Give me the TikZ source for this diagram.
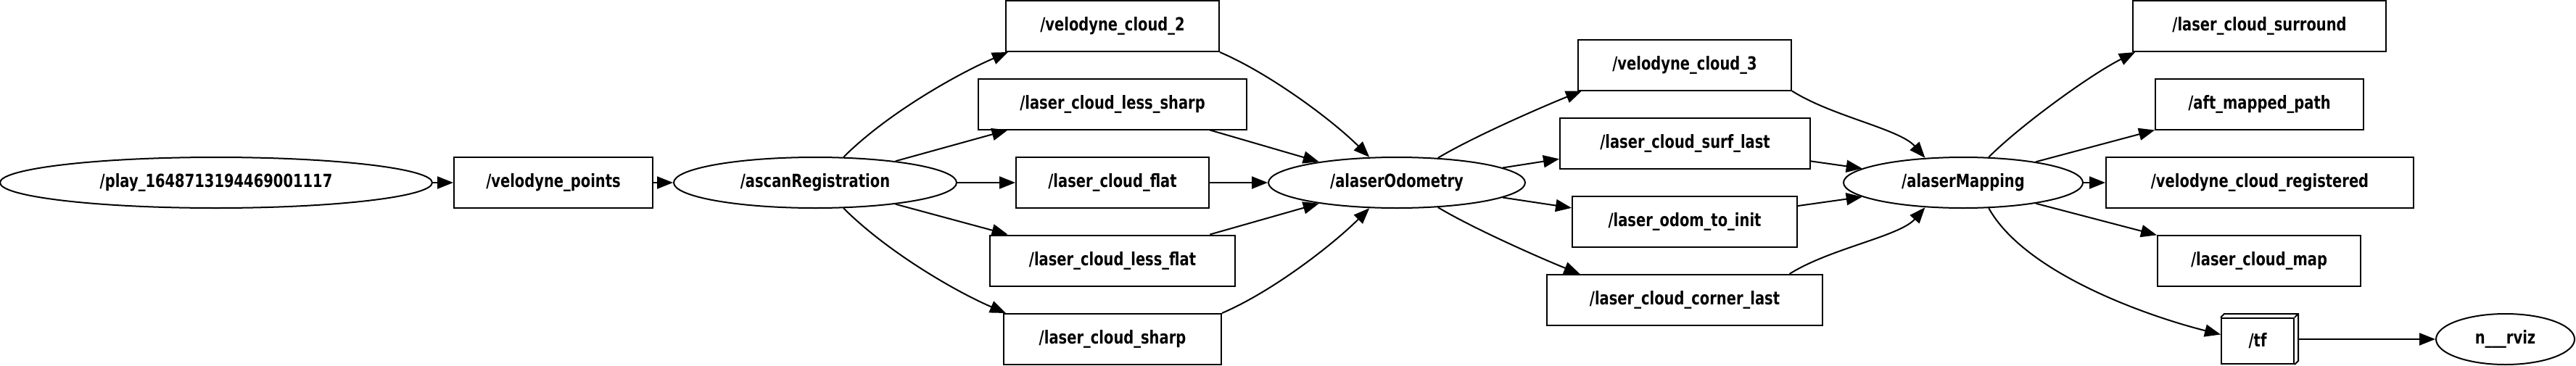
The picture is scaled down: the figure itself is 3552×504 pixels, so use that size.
\documentclass[tikz,border=0pt]{standalone}
\usepackage{fontspec}
\setsansfont{DejaVu Sans}[FakeStretch=0.78]
\usetikzlibrary{arrows.meta,positioning,shapes.geometric}

\begin{document}
\begin{tikzpicture}[
  x=1pt,y=-1pt,
  font=\sffamily\bfseries\fontsize{25}{28}\selectfont,
  nd/.style={draw,ellipse,line width=2pt,minimum height=70pt,inner sep=0pt},
  tp/.style={draw,rectangle,line width=2pt,minimum height=70pt,inner sep=0pt},
  arr/.style={-{Triangle[length=22pt,width=17pt]},line width=2pt}
]
\useasboundingbox (0,0) rectangle (3552,504);

% nodes
\node[nd,minimum width=596pt] (play) at (298,252) {/play\_1648713194469001117};
\node[tp,minimum width=274pt] (vp) at (763,252) {/velodyne\_points};
\node[nd,minimum width=390pt] (ascan) at (1124,252) {/ascanRegistration};

\node[tp,minimum width=294pt] (vc2) at (1534,36) {/velodyne\_cloud\_2};
\node[tp,minimum width=370pt] (ls) at (1534,143.5) {/laser\_cloud\_less\_sharp};
\node[tp,minimum width=266pt] (lfl) at (1534,252) {/laser\_cloud\_flat};
\node[tp,minimum width=338pt] (lf) at (1534,359.5) {/laser\_cloud\_less\_flat};
\node[tp,minimum width=300pt] (sh) at (1534,468) {/laser\_cloud\_sharp};

\node[nd,minimum width=354pt] (odo) at (1926,252) {/alaserOdometry};

\node[tp,minimum width=294pt] (vc3) at (2323,89.5) {/velodyne\_cloud\_3};
\node[tp,minimum width=345pt] (sl) at (2323.5,198) {/laser\_cloud\_surf\_last};
\node[tp,minimum width=310pt] (oti) at (2323,306) {/laser\_odom\_to\_init};
\node[tp,minimum width=380pt] (cl) at (2323,414) {/laser\_cloud\_corner\_last};

\node[nd,minimum width=330pt] (map) at (2707,252) {/alaserMapping};

\node[tp,minimum width=349pt] (sur) at (3115.5,36) {/laser\_cloud\_surround};
\node[tp,minimum width=287pt] (amp) at (3115.5,143.5) {/aft\_mapped\_path};
\node[tp,minimum width=424pt] (vcr) at (3116,252) {/velodyne\_cloud\_registered};
\node[tp,minimum width=280pt] (lcm) at (3115,359.5) {/laser\_cloud\_map};
\node[tp,minimum width=100pt,minimum height=63pt] (tf) at (3113,470.5) {/tf};
\draw[line width=2pt] (tf.north west) -- ++(5,-5) -| ([shift={(5,-5)}]tf.south east) -- (tf.south east)
  (tf.north east) -- ++(5,-5);
\node[nd,minimum width=191pt] (rviz) at (3454.5,468) {n\_\_\_rviz};

% edges
\draw[arr] (play) -- (vp);
\draw[arr] (vp) -- (ascan);

\draw[arr] (ascan.42) .. controls +(60,-60) and +(-70,30) .. ([xshift=4pt]vc2.south west);
\draw[arr] (ascan.15) -- (ls.-166);
\draw[arr] (ascan) -- (lfl);
\draw[arr] (ascan.-15) -- (lf.166);
\draw[arr] (ascan.-42) .. controls +(60,60) and +(-70,-30) .. ([xshift=4pt]sh.north west);

\draw[arr] (vc2.south east) .. controls +(70,30) and +(-50,-50) .. (odo.137);
\draw[arr] (ls.-15) -- (odo.165);
\draw[arr] (lfl) -- (odo);
\draw[arr] (lf.15) -- (odo.-165);
\draw[arr] (sh.north east) .. controls +(70,-30) and +(-50,50) .. (odo.-137);

\draw[arr] (odo.31) .. controls +(50,-30) and +(-50,20) .. ([xshift=6pt]vc3.south west);
\draw[arr] (odo.8) -- (sl.-173);
\draw[arr] (odo.-8) -- (oti.173);
\draw[arr] (odo.-31) .. controls +(50,30) and +(-50,-20) .. (cl.166);

\draw[arr] (vc3.south east) .. controls +(55,35) and +(-35,-40) .. (map.147);
\draw[arr] (sl.-8) -- (map.172);
\draw[arr] (oti.8) -- (map.-172);
\draw[arr] (cl.14) .. controls +(55,-35) and +(-35,40) .. (map.-147);

\draw[arr] (map.45) .. controls +(45,-45) and +(-60,30) .. ([xshift=4pt]sur.south west);
\draw[arr] (map.16) -- (amp.-166);
\draw[arr] (map) -- (vcr);
\draw[arr] (map.-16) -- (lcm.166);
\draw[arr] (map.-45) .. controls +(50,90) and +(-100,-25) .. (tf.170);

\draw[arr] ([xshift=5pt]rviz.west -| tf.east) -- (rviz.west);
\end{tikzpicture}
\end{document}
